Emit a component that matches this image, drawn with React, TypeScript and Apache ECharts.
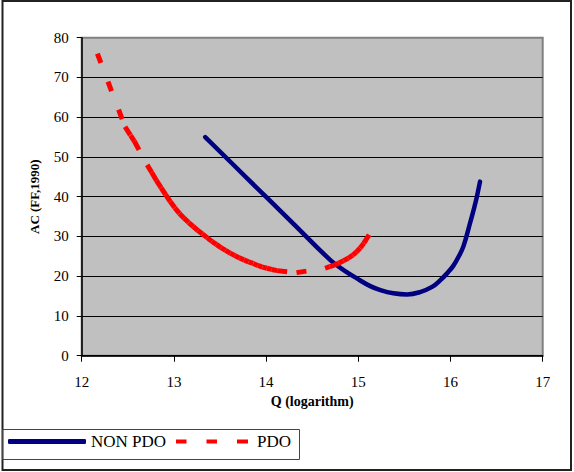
import { useEffect, useRef } from "react";
import * as echarts from "echarts";

// NON PDO curve (Q logarithm, AC)
const nonPdoQ = [13.34, 13.8, 14.3, 14.7, 14.87, 14.98, 15.13, 15.24, 15.38, 15.53, 15.67, 15.8, 15.89, 15.97, 16.03, 16.09, 16.14, 16.21, 16.27, 16.32];
const nonPdoAC = [55.0, 44.5, 33.1, 24.0, 21.1, 19.5, 17.5, 16.5, 15.7, 15.4, 16.0, 17.3, 19.0, 20.9, 22.6, 25.0, 27.5, 33.2, 38.4, 43.8];

// PDO curve (Q logarithm, AC)
const pdoQ = [
  12.17, 12.47, 12.53, 12.57, 12.71, 12.76, 12.81, 12.86, 12.91, 12.96, 13.01, 13.06, 13.11, 13.16,
  13.21, 13.26, 13.31, 13.36, 13.41, 13.46, 13.51, 13.56, 13.61, 13.66, 13.71, 13.76, 13.81, 13.86,
  13.91, 13.96, 14.01, 14.06, 14.12, 14.33, 14.64, 14.69, 14.74, 14.79, 14.84, 14.89, 14.94, 14.98,
  15.02, 15.06, 15.18,
];
const pdoAC = [
  76.0, 57.6, 55.4, 54.0, 48.0, 46.1, 44.1, 42.3, 40.5, 38.8, 37.2, 35.8, 34.6, 33.5,
  32.5, 31.5, 30.6, 29.7, 28.8, 28.0, 27.2, 26.5, 25.8, 25.2, 24.6, 24.1, 23.6, 23.2,
  22.7, 22.3, 22.0, 21.7, 21.4, 20.9, 22.0, 22.4, 22.8, 23.3, 23.9, 24.5, 25.3, 26.1,
  27.1, 28.3, 32.7,
];

const seriesNames = ["NON PDO", "PDO"];
const FONT = "Liberation Serif";

export default function App() {
  const ref = useRef<HTMLDivElement>(null);

  useEffect(() => {
    document.body.style.margin = "0";
    if (!ref.current) return;
    const chart = echarts.init(ref.current, undefined, { renderer: "svg" });

    const option: any = {
      animation: false,
      backgroundColor: "#ffffff",
      textStyle: { fontFamily: FONT, color: "#000" },
      grid: {
        left: 81.7,
        right: 31.3,
        top: 37.7,
        bottom: 116.3,
        show: true,
        backgroundColor: "#c0c0c0",
        borderColor: "#808080",
        borderWidth: 2,
      },
      xAxis: {
        type: "value",
        min: 12,
        max: 17,
        interval: 1,
        name: "Q (logarithm)",
        nameLocation: "middle",
        nameGap: 39,
        nameTextStyle: { fontFamily: FONT, fontWeight: "bold", fontSize: 14, color: "#000" },
        axisLine: { show: true, onZero: false, lineStyle: { color: "#000", width: 1.5 } },
        axisTick: { show: true, length: 6, lineStyle: { color: "#000", width: 1 } },
        axisLabel: { fontFamily: FONT, fontSize: 15, color: "#000", margin: 19 },
        splitLine: { show: false },
      },
      yAxis: {
        type: "value",
        min: 0,
        max: 80,
        interval: 10,
        name: "AC (FF,1990)",
        nameLocation: "middle",
        nameGap: 41,
        nameTextStyle: { fontFamily: FONT, fontWeight: "bold", fontSize: 13, color: "#000" },
        axisLine: { show: true, lineStyle: { color: "#000", width: 1.5 } },
        axisTick: { show: true, length: 5, lineStyle: { color: "#000", width: 1 } },
        axisLabel: { fontFamily: FONT, fontSize: 15, color: "#000", margin: 13 },
        splitLine: { show: true, showMaxLine: false, lineStyle: { color: "#000", width: 1 } },
      },
      legend: [
        {
          data: [{ name: seriesNames[0], icon: "roundRect" }],
          left: 8,
          top: 433,
          padding: 0,
          itemWidth: 78,
          itemHeight: 5,
          textStyle: { fontFamily: FONT, fontSize: 17, color: "#000" },
        },
        {
          data: [
            {
              name: seriesNames[1],
              icon: "path://M0,0H10.5V4H0Z M30.5,0H41V4H30.5Z M61,0H72V4H61Z",
            },
          ],
          left: 176,
          top: 433,
          padding: 0,
          itemWidth: 72,
          itemHeight: 4,
          textStyle: { fontFamily: FONT, fontSize: 17, color: "#000", padding: [0, 0, 0, 4] },
        },
      ],
      graphic: [
        {
          type: "rect",
          shape: { x: 2.5, y: 1, width: 568.5, height: 469 },
          style: { fill: "none", stroke: "#222", lineWidth: 2 },
          silent: true,
        },
        {
          type: "rect",
          shape: { x: 2.5, y: 429.5, width: 297, height: 30 },
          style: { fill: "none", stroke: "#444", lineWidth: 1 },
          silent: true,
        },
      ],
      series: [
        {
          type: "line",
          name: seriesNames[0],
          data: nonPdoQ.map((q, i) => [q, nonPdoAC[i]]),
          symbol: "none",
          smooth: 0.4,
          lineStyle: { color: "#000080", width: 4.5, cap: "round", join: "round" },
          itemStyle: { color: "#000080" },
          z: 3,
        },
        {
          type: "custom",
          name: seriesNames[1],
          data: pdoQ.map((q, i) => [q, pdoAC[i]]),
          itemStyle: { color: "#ff0000" },
          clip: false,
          z: 4,
          renderItem: (params: any, api: any) => {
            const i = params.dataIndex;
            if (i === 0) return { type: "group", children: [] };
            const p0 = api.coord([pdoQ[i - 1], pdoAC[i - 1]]);
            const p1 = api.coord([api.value(0), api.value(1)]);
            return {
              type: "line",
              shape: { x1: p0[0], y1: p0[1], x2: p1[0], y2: p1[1] },
              style: { stroke: "#ff0000", lineWidth: 5, lineDash: [10, 20], lineCap: "butt" },
            };
          },
        },
      ],
    };

    chart.setOption(option);
    return () => chart.dispose();
  }, []);

  return <div ref={ref} style={{ width: 574, height: 472 }} />;
}
